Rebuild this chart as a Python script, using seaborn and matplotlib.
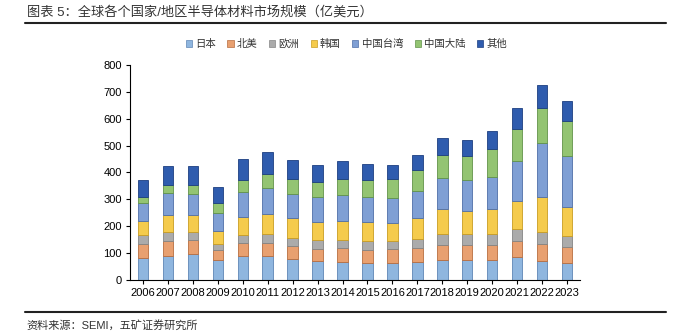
import matplotlib
matplotlib.use("Agg")
import matplotlib.pyplot as plt
import seaborn as sns
import numpy as np
import pandas as pd
from matplotlib.patches import Patch
from matplotlib.lines import Line2D

years = [str(y) for y in range(2006, 2024)]
japan   = [83, 91, 98, 76, 91, 89, 78, 70, 68, 63, 65, 68, 76, 76, 76, 84, 70, 65]
namer   = [52, 53, 51, 37, 47, 48, 50, 47, 52, 50, 51, 52, 56, 55, 55, 61, 63, 58]
europe  = [34, 36, 30, 22, 31, 35, 30, 32, 29, 31, 29, 32, 40, 39, 40, 45, 45, 42]
korea   = [50, 62, 61, 47, 65, 72, 71, 67, 70, 71, 68, 78, 91, 88, 94, 104, 130, 106]
taiwan  = [67, 82, 81, 69, 94, 100, 92, 91, 97, 94, 91, 102, 117, 115, 120, 150, 201, 192]
china   = [24, 30, 34, 34, 43, 50, 55, 56, 60, 62, 70, 77, 84, 87, 101, 119, 130, 130]
other   = [62, 69, 69, 62, 78, 83, 72, 66, 65, 61, 53, 57, 63, 61, 67, 77, 87, 73]

series_names = ["日本", "北美", "欧洲", "韩国", "中国台湾", "中国大陆", "其他"]
series_vals = [japan, namer, europe, korea, taiwan, china, other]
colors = ["#8fb6df", "#e8a070", "#ababab", "#f5cb4c", "#7f9fd4", "#93c472", "#2f5cae"]
edges = ["#5f86b5", "#b86d3f", "#858585", "#c99d22", "#4f6fa8", "#62934a", "#1d3f80"]

sns.set_theme(style="white")
plt.rcParams["font.family"] = ["Liberation Sans", "Noto Sans CJK SC", "DejaVu Sans"]
plt.rcParams["axes.unicode_minus"] = False

fig = plt.figure(figsize=(6.86, 3.35), dpi=100)
ax = fig.add_axes([0.1895, 0.1642, 0.6560, 0.6418])

bottom = np.zeros(len(years))
for name, vals, c, ec in zip(series_names, series_vals, colors, edges):
    df = pd.DataFrame({"year": years, "val": vals})
    sns.barplot(data=df, x="year", y="val", bottom=bottom, color=c, width=0.42,
                edgecolor=ec, linewidth=0.6, ax=ax, label=name, saturation=1)
    bottom = bottom + np.array(vals)

ax.set_xlim(-0.52, 17.52)
ax.set_ylim(0, 800)
ax.set_yticks(range(0, 801, 100))
ax.set_xlabel("")
ax.set_ylabel("")
for s in ["top", "right"]:
    ax.spines[s].set_visible(False)
for s in ["left", "bottom"]:
    ax.spines[s].set_color("black")
    ax.spines[s].set_linewidth(0.8)
ax.tick_params(axis="both", which="both", length=3, width=0.8, color="black",
               labelsize=8, labelcolor="black", direction="out", pad=3)
ax.tick_params(axis="y", left=True)
ax.tick_params(axis="x", bottom=True)
if ax.get_legend() is not None:
    ax.get_legend().remove()

handles = [Patch(facecolor=c, edgecolor=ec, linewidth=0.5) for c, ec in zip(colors, edges)]
fig.legend(handles, series_names, loc="center", bbox_to_anchor=(0.505, 0.869),
           ncol=7, frameon=False, fontsize=7.5, handlelength=0.6, handleheight=0.6,
           handletextpad=0.3, columnspacing=1.1, labelcolor="#333333")

fig.text(27 / 686, 1 - 12 / 335, "图表 5：全球各个国家/地区半导体材料市场规模（亿美元）",
         fontsize=9.5, color="#333333", va="center", ha="left")
fig.add_artist(Line2D([25 / 686, 666 / 686], [1 - 23 / 335] * 2, color="#222222", lw=1.5))
fig.add_artist(Line2D([25 / 686, 666 / 686], [1 - 311.5 / 335] * 2, color="#222222", lw=1.5))
fig.text(26 / 686, 1 - 325 / 335, "资料来源：SEMI，五矿证券研究所",
         fontsize=8, color="#333333", va="center", ha="left")

fig.savefig("out.png", dpi=100)
